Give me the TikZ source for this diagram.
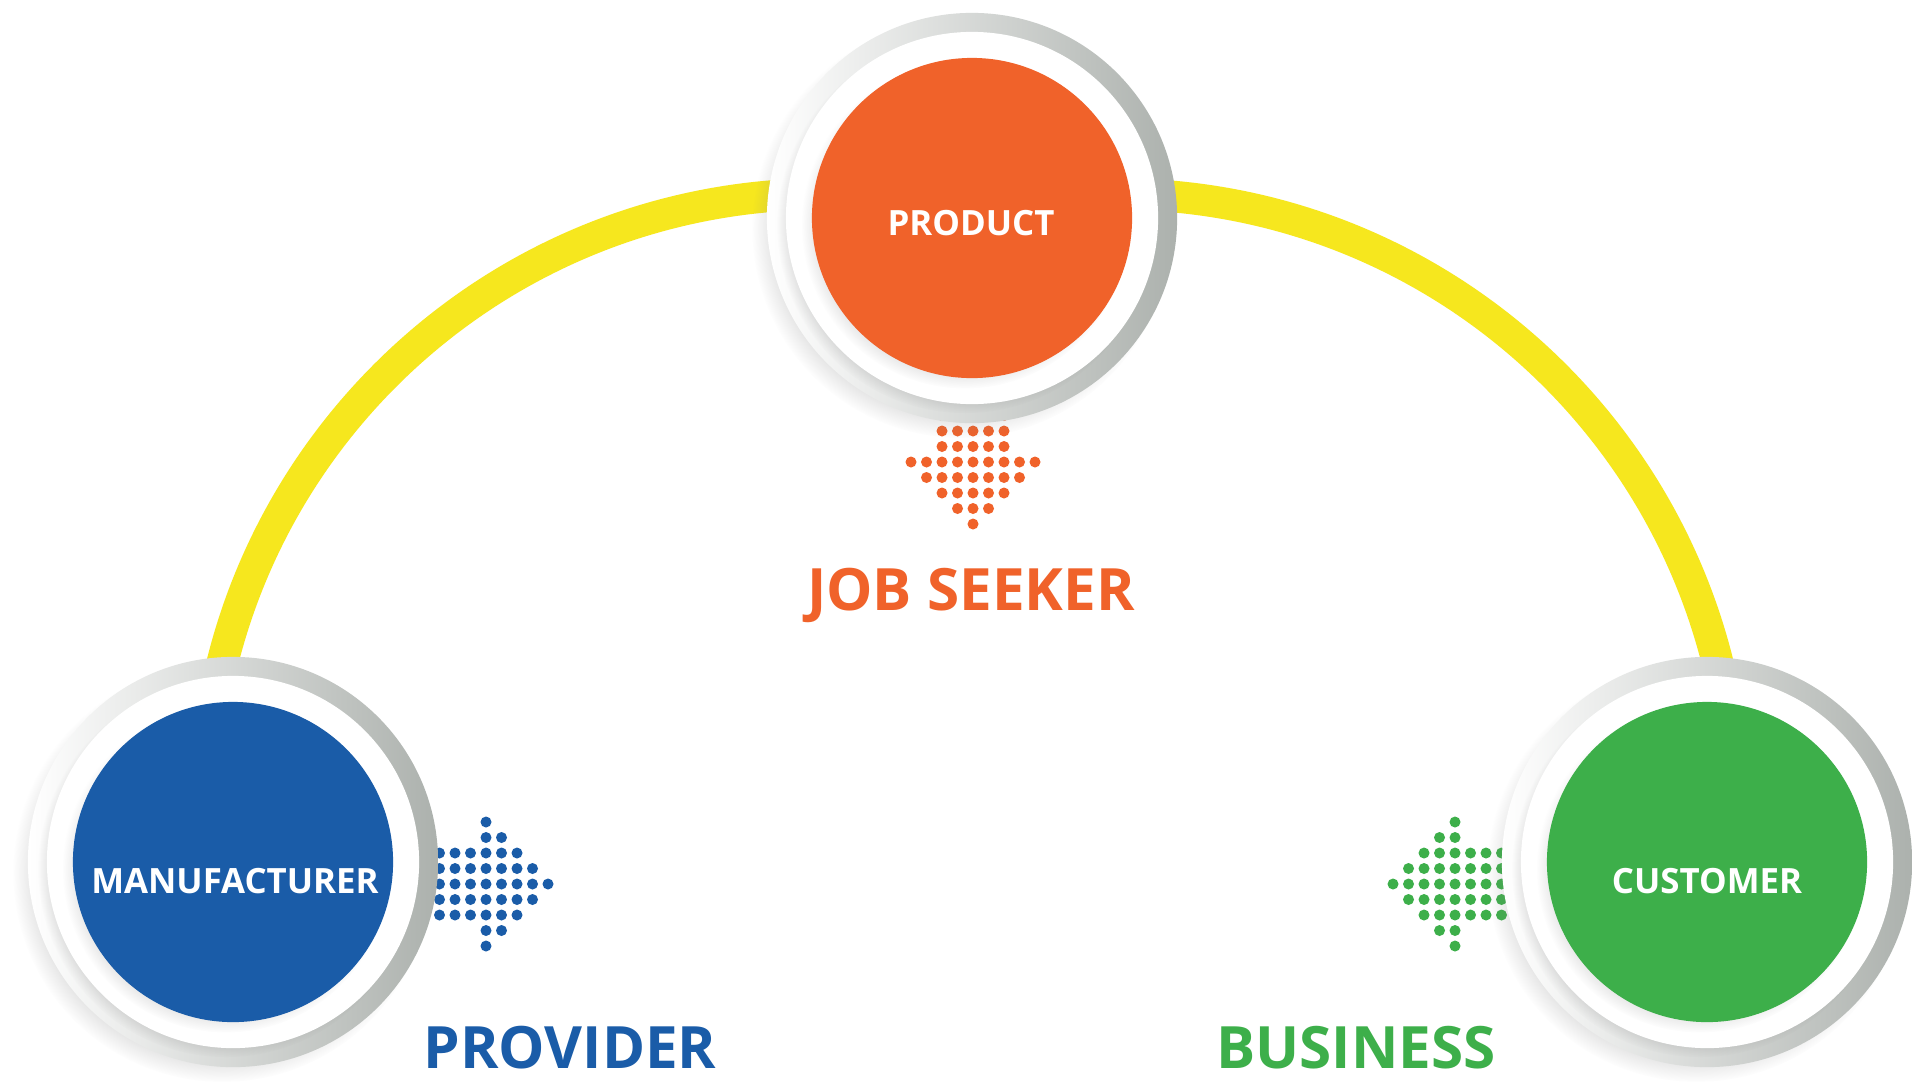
\documentclass[tikz,border=0pt]{standalone}
\usepackage{fontspec}
\setsansfont{Open Sans}
\usetikzlibrary{shadows,fadings}

\definecolor{prodorange}{HTML}{F0622A}
\definecolor{manublue}{HTML}{1A5CA8}
\definecolor{custgreen}{HTML}{3DAF4A}
\definecolor{arcyellow}{HTML}{F6E71E}
\definecolor{ringgray}{HTML}{ACB1AD}

\newcommand{\dotrows}{0/5,1/5,2/5,3/9,4/7,5/5,6/3,7/1}

\tikzset{
  ring/.style={circle, inner sep=0pt, minimum size=4.1cm, left color=white,
    middle color=ringgray!60, right color=ringgray,
    circular drop shadow={shadow xshift=-3pt, shadow yshift=-3pt, shadow scale=1.02, opacity=0.3}},
  plate/.style={circle, inner sep=0pt, minimum size=3.72cm, fill=white,
    circular drop shadow={shadow xshift=-2pt, shadow yshift=-2pt, shadow scale=1.01, opacity=0.45}},
  button/.style={circle, inner sep=0pt, minimum size=3.2cm, fill=#1,
    circular drop shadow={shadow xshift=-2pt, shadow yshift=-2pt, shadow scale=1.02, opacity=0.3}},
  btnlabel/.style={text=white, inner sep=0pt, anchor=base, font=\sffamily\bfseries\fontsize{9.9}{12}\selectfont},
  caption/.style={text=#1, inner sep=0pt, anchor=base, font=\sffamily\bfseries\fontsize{16.6}{20}\selectfont},
  arcline/.style={draw=arcyellow, line width=9pt}
}

\begin{document}
\begin{tikzpicture}[x=0.01cm, y=-0.01cm]
\useasboundingbox (0,0) rectangle (1913,1081);
\fill[white] (0,0) rectangle (1913,1081);

\coordinate (arcL) at (823,813);
\coordinate (arcR) at (1117,813);
\draw[arcline] (arcL) ++(180:619) arc[start angle=180, end angle=270, radius=619];
\draw[arcline] (arcR) ++(270:619) arc[start angle=270, end angle=360, radius=619];

\foreach \k/\n in \dotrows
  \foreach \i in {1,...,\n}
    \fill[prodorange] ({973+(\i-(\n+1)/2)*15.5}, {524-(7-\k)*15.5}) circle (5.5);
\foreach \k/\n in \dotrows
  \foreach \i in {1,...,\n}
    \fill[manublue] ({548-(7-\k)*15.5}, {884+(\i-(\n+1)/2)*15.5}) circle (5.5);
\foreach \k/\n in \dotrows
  \foreach \i in {1,...,\n}
    \fill[custgreen] ({1393+(7-\k)*15.5}, {884+(\i-(\n+1)/2)*15.5}) circle (5.5);

\node[ring] (prod-ring) at (972,218) {};
\node[plate] (prod-plate) at (prod-ring.center) {};
\node[button=prodorange] (prod) at (prod-ring.center) {};
\node[btnlabel] (prod-t) at (971,235) {PRODUCT};

\node[ring] (manu-ring) at (233,862) {};
\node[plate] (manu-plate) at (manu-ring.center) {};
\node[button=manublue] (manu) at (manu-ring.center) {};
\node[btnlabel] (manu-t) at (235,893) {MANUFACTURER};

\node[ring] (cust-ring) at (1707,862) {};
\node[plate] (cust-plate) at (cust-ring.center) {};
\node[button=custgreen] (cust) at (cust-ring.center) {};
\node[btnlabel] (cust-t) at (1707,893) {CUSTOMER};

\node[caption=prodorange] (seeker) at (971,610) {JOB SEEKER};
\node[caption=manublue] (provider) at (570,1068) {PROVIDER};
\node[caption=custgreen] (business) at (1356,1068) {BUSINESS};
\end{tikzpicture}
\end{document}
